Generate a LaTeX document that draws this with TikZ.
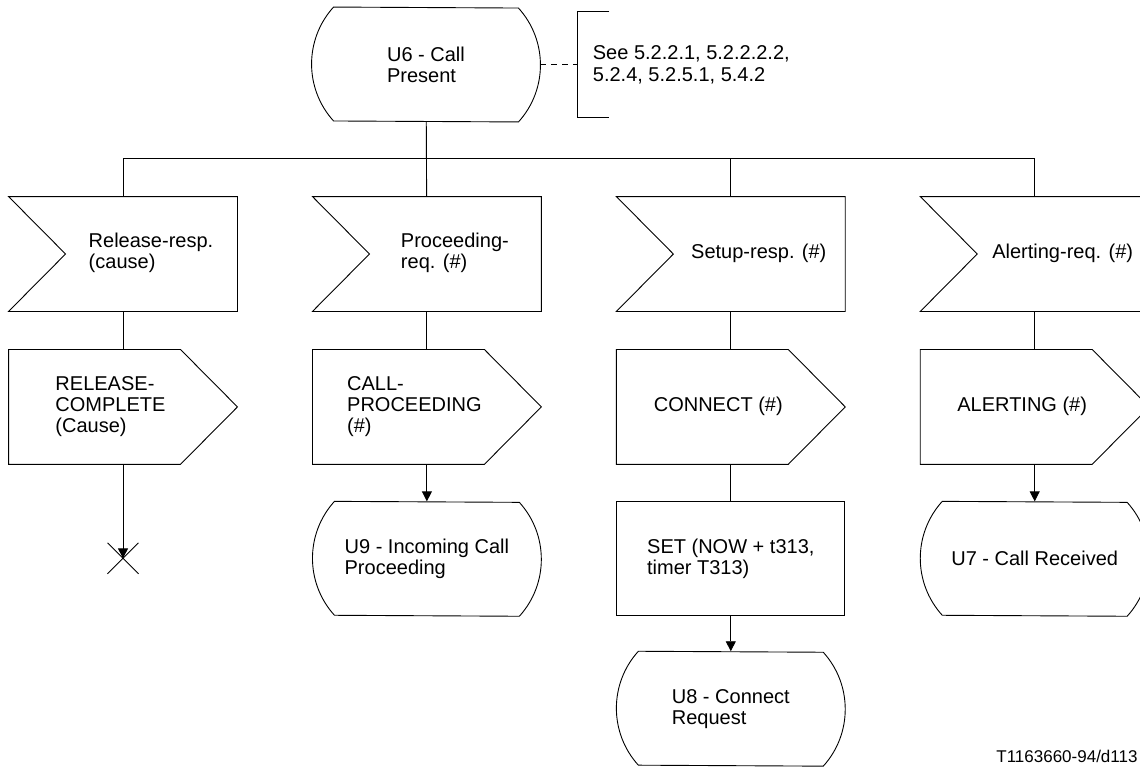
\documentclass[tikz,border=0pt]{standalone}
\usepackage{fontspec}
\setmainfont{Liberation Sans}
\usetikzlibrary{arrows.meta,positioning}

% text blocks shifted inside the signal symbols
\newcommand{\sigin}[1]{\begin{tabular}{@{\hspace{56pt}}l@{}}#1\end{tabular}}
\newcommand{\sigout}[1]{\begin{tabular}{@{}l@{\hspace{25pt}}}#1\end{tabular}}

\begin{document}
\begin{tikzpicture}[
  line width=0.9pt,
  shp/.style      = {minimum width=228pt, minimum height=114pt, inner sep=0pt,
                     font=\fontsize{20}{21}\selectfont},
  insig/.style    = {shp, append after command={\pgfextra{
                       \draw (\tikzlastnode.north west) -- (\tikzlastnode.north east)
                         -- (\tikzlastnode.south east) -- (\tikzlastnode.south west)
                         -- ([xshift=57pt]\tikzlastnode.west) -- cycle;}}},
  outsig/.style   = {shp, append after command={\pgfextra{
                       \draw (\tikzlastnode.north west) -- ([xshift=-57pt]\tikzlastnode.north east)
                         -- (\tikzlastnode.east) -- ([xshift=-57pt]\tikzlastnode.south east)
                         -- (\tikzlastnode.south west) -- cycle;}}},
  statebox/.style = {shp, align=left, append after command={\pgfextra{
                       \draw ([xshift=22pt]\tikzlastnode.north west)
                         arc[start angle=137.8, end angle=222.2, radius=84.8pt]
                         -- ([xshift=-22pt]\tikzlastnode.south east)
                         arc[start angle=-42.2, end angle=42.2, radius=84.8pt] -- cycle;}}},
  taskbox/.style  = {shp, draw, align=left},
  comment/.style  = {minimum height=105pt, inner xsep=15pt, inner ysep=0pt,
                     align=left, font=\fontsize{20}{22}\selectfont},
  figid/.style    = {font=\fontsize{17}{17}\selectfont, inner sep=0pt, anchor=base east},
  dashline/.style = {dash pattern=on 6pt off 5pt},
  arr/.style      = {-{Triangle[length=10pt, width=10pt]}},
]
\useasboundingbox (0,0) rectangle (1140pt,-766pt);

\node[statebox] (u6) at (426pt,-64.5pt) {U6 - Call\\Present};
\node[comment, right=37pt of u6] (see) {See 5.2.2.1, 5.2.2.2.2,\\5.2.4, 5.2.5.1, 5.4.2};
\draw[dashline] (u6) -- (see);
\draw ([xshift=32pt]see.north west) -| (see.south west) -- ++(32pt,0);

% inputs
\node[insig] (relresp) at (123pt,-254pt) {\sigin{Release-resp.\\(cause)}};
\node[insig, right=75pt of relresp] (procreq) {\sigin{Proceeding-\\req. (\#)}};
\node[insig, right=75pt of procreq] (setupresp) {\sigin{Setup-resp. (\#)}};
\node[insig, right=75pt of setupresp] (alertreq) {\sigin{Alerting-req. (\#)}};

\coordinate[below=36pt of u6] (bus);
\draw (u6) -- (procreq);
\draw (relresp.north) |- (bus) -| (alertreq.north);
\draw (setupresp.north) |- (bus);

% outputs
\node[outsig, below=38pt of relresp] (relcompl) {\sigout{RELEASE-\\COMPLETE\\(Cause)}};
\node[outsig, below=38pt of procreq] (callproc) {\sigout{CALL-\\PROCEEDING\\(\#)}};
\node[outsig, below=38pt of setupresp] (connect) {\sigout{CONNECT (\#)}};
\node[outsig, below=38pt of alertreq] (alerting) {\sigout{ALERTING (\#)}};
\draw (relresp) -- (relcompl);
\draw (procreq) -- (callproc);
\draw (setupresp) -- (connect);
\draw (alertreq) -- (alerting);

% next states
\node[statebox, below=37pt of callproc] (u9) {U9 - Incoming Call\\Proceeding};
\node[taskbox, below=37pt of connect] (settimer) {SET (NOW + t313,\\timer T313)};
\node[statebox, below=37pt of alerting] (u7) {U7 - Call Received};
\node[statebox, below=35pt of settimer] (u8) {U8 - Connect\\Request};
\coordinate[below=94pt of relcompl] (relstop);

\draw[arr] (relcompl) -- (relstop);
\draw ([shift={(-15.5pt,15.5pt)}]relstop) -- ([shift={(15.5pt,-15.5pt)}]relstop)
      ([shift={(-15.5pt,-15.5pt)}]relstop) -- ([shift={(15.5pt,15.5pt)}]relstop);
\draw[arr] (callproc) -- (u9);
\draw (connect) -- (settimer);
\draw[arr] (settimer) -- (u8);
\draw[arr] (alerting) -- (u7);

\node[figid] (figno) at (1138pt,-762pt) {T1163660-94/d113};

\end{tikzpicture}
\end{document}
